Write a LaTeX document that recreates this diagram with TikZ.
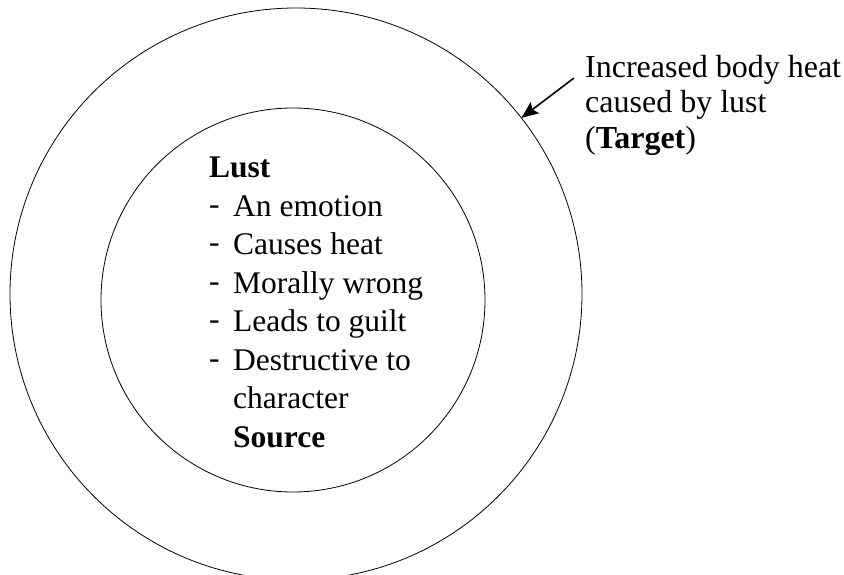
\documentclass[tikz,border=0pt]{standalone}
\usepackage{fontspec}
\setmainfont{Liberation Serif}
\usetikzlibrary{arrows.meta,positioning}
\tikzset{
    ring/.style={draw, circle, line width=0.8pt, inner sep=0pt, outer sep=0pt},
    item/.style={anchor=base west, inner sep=0pt, font=\fontsize{31.5}{38}\selectfont},
    head/.style={item, font=\fontsize{31.5}{38}\selectfont\bfseries},
    pointer/.style={-{Stealth[length=17pt, width=14pt, inset=3pt]}, line width=1.6pt}
}

\begin{document}
\begin{tikzpicture}[x=1pt, y=-1pt]
    \useasboundingbox (0,0) rectangle (844,575);

    % Target and source rings
    \node[ring, minimum size=572pt] (outer) at (296,294) {};
    \node[ring, minimum size=384pt] (inner) at (293,300) {};

    % Source list
    \node[head] (lust) at (209,178) {Lust};
    \foreach \txt [count=\i] in {An emotion, Causes heat, Morally wrong, Leads to guilt, Destructive to}
    {
        \node[item] (dash\i) at (209,176+38.4*\i) {-};
        \node[item] (item\i) at (233,178+38.4*\i) {\txt};
    }
    \node[item] (rest) at (233,408.5) {character};
    \node[head] (source) at (233,447) {Source};

    % Target label
    \node[item, anchor=north west, align=left, font=\fontsize{32}{35.5}\selectfont] (target) at (585,55)
        {Increased body heat\\caused by lust\\(\textbf{Target})};
    \coordinate (tail) at (574,78);
    \draw[pointer] (tail) -- (outer.38);
\end{tikzpicture}
\end{document}
